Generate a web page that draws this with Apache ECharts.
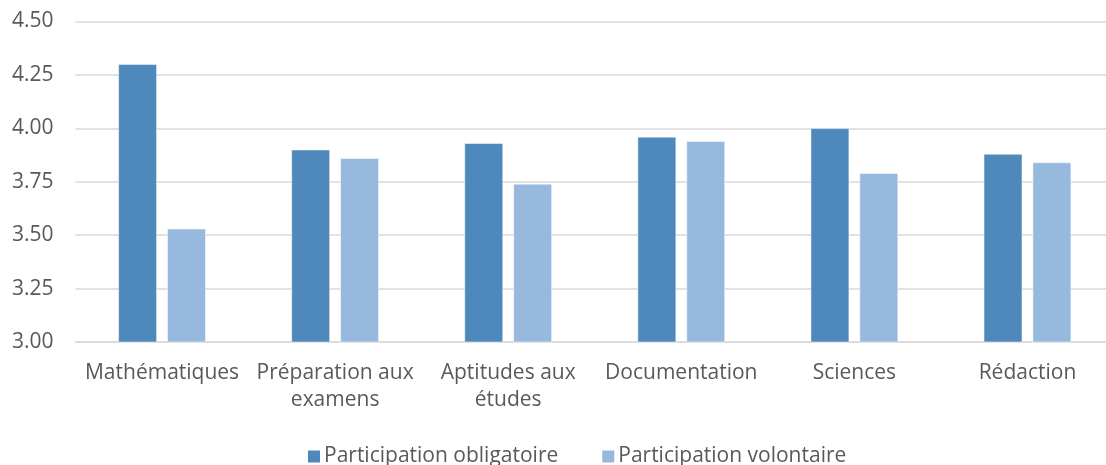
<!DOCTYPE html>
<html>
<head>
<meta charset="utf-8">
<script src="https://cdn.jsdelivr.net/npm/echarts@6/dist/echarts.min.js"></script>
<style>
  html, body { margin: 0; padding: 0; background: #fff; overflow: hidden; }
  #chart { width: 1114px; height: 465px; }
</style>
</head>
<body>
<div id="chart"></div>
<script>
// matières
const categories = ['Mathématiques', 'Préparation aux\nexamens', 'Aptitudes aux\nétudes', 'Documentation', 'Sciences', 'Rédaction'];
const obligatoire = [4.30, 3.90, 3.93, 3.96, 4.00, 3.88];
const volontaire = [3.53, 3.86, 3.74, 3.94, 3.79, 3.84];
const seriesNames = ['Participation obligatoire', 'Participation volontaire'];

const fontFam = 'Open Sans';
let chart = echarts.init(document.getElementById('chart'));
var options = {
  animation: false,
  textStyle: { fontFamily: fontFam },
  legend: {
    top: 441,
    left: 301,
    itemWidth: 14,
    itemHeight: 14,
    itemGap: 42,
    icon: 'rect',
    textStyle: { fontSize: 21, color: '#595959', fontFamily: fontFam, padding: [0, 0, 0, -2] },
    data: seriesNames
  },
  grid: { left: 75.5, top: 21.5, right: 0, bottom: 123 },
  xAxis: {
    type: 'category',
    data: categories,
    axisTick: { show: false },
    axisLine: { lineStyle: { color: '#d9d9d9', width: 1.5 } },
    axisLabel: { fontSize: 21, color: '#595959', lineHeight: 27, margin: 18, interval: 0 }
  },
  yAxis: {
    type: 'value',
    min: 3,
    max: 4.5,
    interval: 0.25,
    axisLine: { show: false },
    axisTick: { show: false },
    splitLine: { lineStyle: { color: '#d9d9d9', width: 1.5 } },
    axisLabel: {
      fontSize: 21, color: '#595959', margin: 22,
      formatter: v => v.toFixed(2)
    }
  },
  series: [
    {
      name: seriesNames[0],
      type: 'bar',
      data: obligatoire,
      barWidth: 38.5,
      barGap: '27%',
      itemStyle: { color: '#4f89bc', borderColor: '#fff', borderWidth: 0.5 }
    },
    {
      name: seriesNames[1],
      type: 'bar',
      data: volontaire,
      barWidth: 38.5,
      itemStyle: { color: '#98b9de', borderColor: '#fff', borderWidth: 0.5 }
    }
  ]
};
chart.setOption(options);
</script>
</body>
</html>
